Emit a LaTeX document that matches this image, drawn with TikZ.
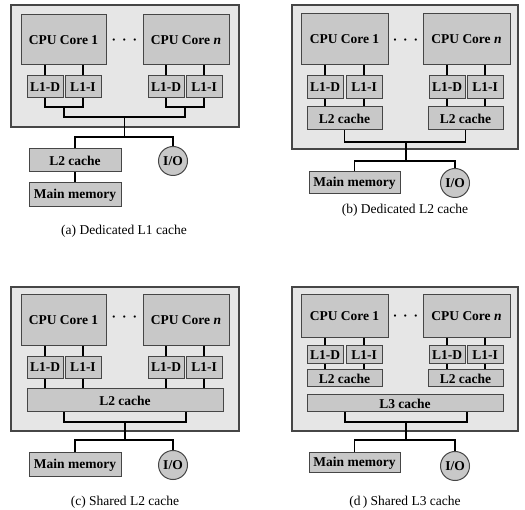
\documentclass[tikz,border=0pt]{standalone}
\usepackage{fontspec}
\setmainfont{Liberation Serif}
\definecolor{outerfill}{RGB}{230,230,230}
\definecolor{innerfill}{RGB}{200,200,200}
\definecolor{edgegray}{RGB}{70,70,70}
\begin{document}
\begin{tikzpicture}[x=1pt,y=-1pt,
  panel/.style={draw=edgegray, fill=outerfill, line width=1.3pt, inner sep=0},
  unit/.style={draw=edgegray, fill=innerfill, line width=1pt, inner sep=0, font=\fontsize{13.5}{14}\selectfont\bfseries},
  ioc/.style={circle, draw=edgegray, fill=innerfill, line width=1pt, inner sep=0, minimum size=29pt, font=\fontsize{13.5}{14}\selectfont\bfseries},
  conn/.style={draw=black, line width=1.6pt, line join=miter},
  caption/.style={font=\fontsize{13.5}{15}\selectfont, inner sep=0},
  dotsnode/.style={font=\fontsize{13.5}{14}\selectfont\bfseries, inner sep=0}
]
\useasboundingbox (0,0) rectangle (525,510);
\newcommand{\dotsrow}{·\hspace{6pt}·\hspace{6pt}·}

% ================= (a) =================
\node[panel, minimum width=228pt, minimum height=122pt] (pa) at (125,66) {};
\node[unit, minimum width=85pt, minimum height=50pt] (a1) at (63.5,40) {CPU Core 1};
\node[unit, minimum width=86pt, minimum height=50pt] (an) at (186,40) {CPU Core \textit{n}};
\node[dotsnode] (adots) at (124.5,42) {\dotsrow};
\node[unit, minimum width=36pt, minimum height=22pt] (a1d) at (45,87) {L1-D};
\node[unit, minimum width=36pt, minimum height=22pt] (a1i) at (83,87) {L1-I};
\node[unit, minimum width=36pt, minimum height=22pt] (and) at (166,87) {L1-D};
\node[unit, minimum width=36pt, minimum height=22pt] (ani) at (204,87) {L1-I};
\node[unit, minimum width=92pt, minimum height=23pt] (a2) at (75,160.5) {L2 cache};
\node[unit, minimum width=92pt, minimum height=24pt] (amm) at (75,195) {Main memory};
\node[ioc] (aio) at (173,161) {I/O};
\node[caption] (acap) at (124,231) {(a) Dedicated L1 cache};
\coordinate (abl) at (64,107);
\coordinate (abr) at (185,107);
\coordinate (abc) at (124.5,117);
\coordinate (abj) at (124.5,137);
\draw[conn] (a1d.north |- a1.south) -- (a1d.north);
\draw[conn] (a1i.north |- a1.south) -- (a1i.north);
\draw[conn] (and.north |- an.south) -- (and.north);
\draw[conn] (ani.north |- an.south) -- (ani.north);
\draw[conn] (a1d.south) |- (abl) -| (a1i.south);
\draw[conn] (and.south) |- (abr) -| (ani.south);
\draw[conn] (abl) |- (abc) -| (abr);
\draw[conn] (abc) -- (abj);
\draw[conn] (a2.north) |- (abj) -| (aio.north);
\draw[conn] (a2.south) -- (amm.north);

% ================= (b) =================
\node[panel, minimum width=226pt, minimum height=144pt] (pb) at (405,77) {};
\node[unit, minimum width=87pt, minimum height=51pt] (b1) at (344.5,39.5) {CPU Core 1};
\node[unit, minimum width=87pt, minimum height=51pt] (bn) at (466.5,39.5) {CPU Core \textit{n}};
\node[dotsnode] (bdots) at (405.5,42) {\dotsrow};
\node[unit, minimum width=36pt, minimum height=23pt] (b1d) at (325,87.5) {L1-D};
\node[unit, minimum width=36pt, minimum height=23pt] (b1i) at (364,87.5) {L1-I};
\node[unit, minimum width=36pt, minimum height=23pt] (bnd) at (447,87.5) {L1-D};
\node[unit, minimum width=36pt, minimum height=23pt] (bni) at (485,87.5) {L1-I};
\node[unit, minimum width=75pt, minimum height=23pt] (b21) at (344.5,118.5) {L2 cache};
\node[unit, minimum width=75pt, minimum height=23pt] (b2n) at (465.5,118.5) {L2 cache};
\node[unit, minimum width=91pt, minimum height=22pt] (bmm) at (354.5,183) {Main memory};
\node[ioc] (bio) at (455,183) {I/O};
\node[caption] (bcap) at (405,210) {(b) Dedicated L2 cache};
\coordinate (bbc) at (406,142);
\coordinate (bbj) at (406,161);
\draw[conn] (b1d.north |- b1.south) -- (b1d.north);
\draw[conn] (b1i.north |- b1.south) -- (b1i.north);
\draw[conn] (bnd.north |- bn.south) -- (bnd.north);
\draw[conn] (bni.north |- bn.south) -- (bni.north);
\draw[conn] (b1d.south) -- (b1d.south |- b21.north);
\draw[conn] (b1i.south) -- (b1i.south |- b21.north);
\draw[conn] (bnd.south) -- (bnd.south |- b2n.north);
\draw[conn] (bni.south) -- (bni.south |- b2n.north);
\draw[conn] (b21.south) |- (bbc) -| (b2n.south);
\draw[conn] (bbc) -- (bbj);
\draw[conn] (bmm.north) |- (bbj) -| (bio.north);

% ================= (c) =================
\node[panel, minimum width=228pt, minimum height=144pt] (pc) at (125,359) {};
\node[unit, minimum width=85pt, minimum height=51pt] (c1) at (63.5,320.5) {CPU Core 1};
\node[unit, minimum width=86pt, minimum height=51pt] (cn) at (186,320.5) {CPU Core \textit{n}};
\node[dotsnode] (cdots) at (124.5,319) {\dotsrow};
\node[unit, minimum width=36pt, minimum height=22pt] (c1d) at (45,367.5) {L1-D};
\node[unit, minimum width=36pt, minimum height=22pt] (c1i) at (83,367.5) {L1-I};
\node[unit, minimum width=36pt, minimum height=22pt] (cnd) at (166,367.5) {L1-D};
\node[unit, minimum width=36pt, minimum height=22pt] (cni) at (204,367.5) {L1-I};
\node[unit, minimum width=196pt, minimum height=23pt] (c2) at (125,400.5) {L2 cache};
\node[unit, minimum width=92pt, minimum height=24pt] (cmm) at (75,465) {Main memory};
\node[ioc] (cio) at (173,465) {I/O};
\node[caption] (ccap) at (125,502) {(c) Shared L2 cache};
\coordinate (cbl) at (64,412);
\coordinate (cbr) at (186,412);
\coordinate (cbc) at (125,422);
\coordinate (cbj) at (125,440);
\draw[conn] (c1d.north |- c1.south) -- (c1d.north);
\draw[conn] (c1i.north |- c1.south) -- (c1i.north);
\draw[conn] (cnd.north |- cn.south) -- (cnd.north);
\draw[conn] (cni.north |- cn.south) -- (cni.north);
\draw[conn] (c1d.south) -- (c1d.south |- c2.north);
\draw[conn] (c1i.south) -- (c1i.south |- c2.north);
\draw[conn] (cnd.south) -- (cnd.south |- c2.north);
\draw[conn] (cni.south) -- (cni.south |- c2.north);
\draw[conn] (cbl) |- (cbc) -| (cbr);
\draw[conn] (cbc) -- (cbj);
\draw[conn] (cmm.north) |- (cbj) -| (cio.north);

% ================= (d) =================
\node[panel, minimum width=226pt, minimum height=144pt] (pd) at (405,359) {};
\node[unit, minimum width=87pt, minimum height=43pt] (d1) at (344.5,316.5) {CPU Core 1};
\node[unit, minimum width=87pt, minimum height=43pt] (dn) at (466.5,316.5) {CPU Core \textit{n}};
\node[dotsnode] (ddots) at (405.5,318) {\dotsrow};
\node[unit, minimum width=36pt, minimum height=18pt] (d1d) at (325,355) {L1-D};
\node[unit, minimum width=36pt, minimum height=18pt] (d1i) at (364,355) {L1-I};
\node[unit, minimum width=36pt, minimum height=18pt] (dnd) at (447,355) {L1-D};
\node[unit, minimum width=36pt, minimum height=18pt] (dni) at (485,355) {L1-I};
\node[unit, minimum width=75pt, minimum height=17pt] (d21) at (344.5,378.5) {L2 cache};
\node[unit, minimum width=75pt, minimum height=17pt] (d2n) at (465.5,378.5) {L2 cache};
\node[unit, minimum width=196pt, minimum height=17pt] (d3) at (405,403.5) {L3 cache};
\node[unit, minimum width=91pt, minimum height=20pt] (dmm) at (354.5,463) {Main memory};
\node[ioc] (dio) at (455,466) {I/O};
\node[caption] (dcap) at (405,502) {(d\,) Shared L3 cache};
\coordinate (dbl) at (345,412);
\coordinate (dbr) at (467,412);
\coordinate (dbc) at (406,422);
\coordinate (dbj) at (406,440);
\draw[conn] (d1d.north |- d1.south) -- (d1d.north);
\draw[conn] (d1i.north |- d1.south) -- (d1i.north);
\draw[conn] (dnd.north |- dn.south) -- (dnd.north);
\draw[conn] (dni.north |- dn.south) -- (dni.north);
\draw[conn] (d1d.south) -- (d1d.south |- d21.north);
\draw[conn] (d1i.south) -- (d1i.south |- d21.north);
\draw[conn] (dnd.south) -- (dnd.south |- d2n.north);
\draw[conn] (dni.south) -- (dni.south |- d2n.north);
\draw[conn] (dbl) |- (dbc) -| (dbr);
\draw[conn] (dbc) -- (dbj);
\draw[conn] (dmm.north) |- (dbj) -| (dio.north);
\end{tikzpicture}
\end{document}
